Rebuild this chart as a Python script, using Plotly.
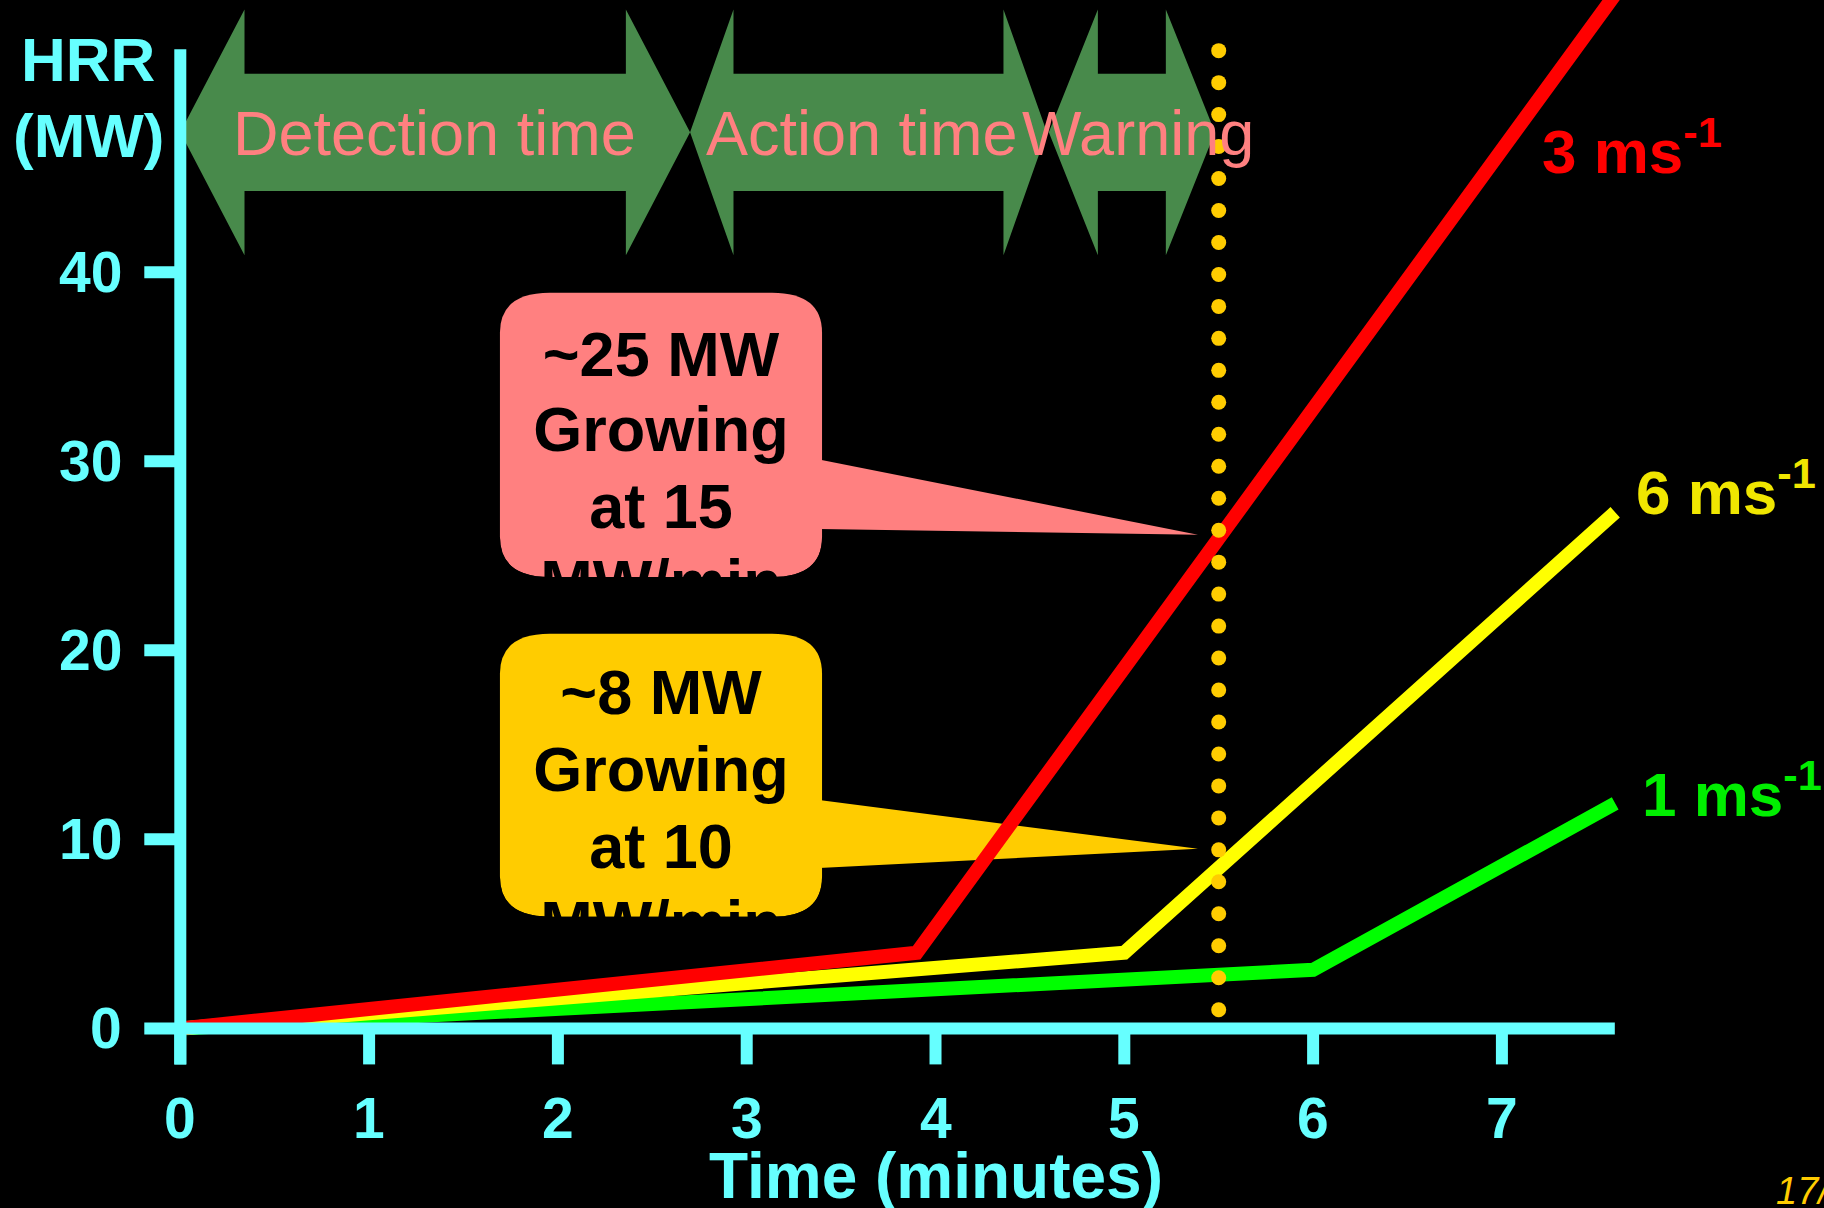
import numpy as np
import plotly.graph_objects as go

# ---- data -----------------------------------------------------------------
# Heat release rate (MW) against time (minutes) for three air velocities
red_time = [0.0, 3.9, 7.6]
red_hrr = [0.0, 4.0, 54.7]
yellow_time = [0.0, 5.0, 7.6]
yellow_hrr = [0.0, 4.0, 27.3]
green_time = [0.0, 6.0, 7.6]
green_hrr = [0.0, 3.1, 11.9]

velocity_labels = ["3 ms<sup>-1</sup>", "6 ms<sup>-1</sup>", "1 ms<sup>-1</sup>"]

x_tick_values = [0, 1, 2, 3, 4, 5, 6, 7]
y_tick_values = [0, 10, 20, 30, 40]

phase_names = ["Detection time", "Action time", "Warning"]
phase_start = [0.0, 2.70, 4.60]
phase_end = [2.70, 4.59, 5.48]

warning_time = 5.5

callout_fast = ["~25 MW", "Growing", "at 15", "MW/min"]
callout_medium = ["~8 MW", "Growing", "at 10", "MW/min"]

# ---- canvas / scales --------------------------------------------------------
W, H = 1824, 1208
X_RANGE = [-0.955, 8.706]
Y_RANGE = [-9.50, 54.40]
PX_X = W / (X_RANGE[1] - X_RANGE[0])   # pixels per minute
PX_Y = H / (Y_RANGE[1] - Y_RANGE[0])   # pixels per MW


def dx(px):
    return px / PX_X


def dy(px):
    return px / PX_Y


CYAN = "#66FFFF"
RED = "#FF0000"
YELLOW = "#FFFF00"
GREEN = "#00FF00"
GOLD = "#FFCC00"
ARROW_GREEN = "#488A4B"
SALMON = "#FF8080"
FONT = "Liberation Sans, Arial, sans-serif"

shapes = []
annotations = []

# ---- phase arrows along the top -------------------------------------------
y_mid, shaft_half, head_half = 47.4, 3.1, 6.5
head_len = [0.34, 0.23, 0.26]
for a, b, h in zip(phase_start, phase_end, head_len):
    path = (f"M {a},{y_mid} L {a+h},{y_mid+head_half} L {a+h},{y_mid+shaft_half} "
            f"L {b-h},{y_mid+shaft_half} L {b-h},{y_mid+head_half} L {b},{y_mid} "
            f"L {b-h},{y_mid-head_half} L {b-h},{y_mid-shaft_half} "
            f"L {a+h},{y_mid-shaft_half} L {a+h},{y_mid-head_half} Z")
    shapes.append(dict(type="path", path=path, fillcolor=ARROW_GREEN,
                       line=dict(width=0), layer="below"))

phase_centres = [1.345, 3.61, 5.07]
for name, xc in zip(phase_names, phase_centres):
    annotations.append(dict(x=xc, y=46.20 + dy(0.35 * 63), text=name, showarrow=False,
                            xanchor="center", yanchor="middle",
                            font=dict(family=FONT, size=63, color=SALMON)))

# ---- callout boxes ----------------------------------------------------------
box_left, box_right = 1.693, 3.399
rx, ry = dx(50), dy(40)


def rounded_box(L, R, B, T):
    return (f"M {L+rx},{T} L {R-rx},{T} Q {R},{T} {R},{T-ry} L {R},{B+ry} "
            f"Q {R},{B} {R-rx},{B} L {L+rx},{B} Q {L},{B} {L},{B+ry} "
            f"L {L},{T-ry} Q {L},{T} {L+rx},{T} Z")


def bottom_mask(L, R, B, depth):
    e = dx(4)
    return (f"M {L-e},{B+ry} L {L},{B+ry} Q {L},{B} {L+rx},{B} L {R-rx},{B} "
            f"Q {R},{B} {R},{B+ry} L {R+e},{B+ry} L {R+e},{B-depth} "
            f"L {L-e},{B-depth} Z")


callouts = [
    # colour, bottom, top, pointer base (upper, lower), pointer tip (x, y), text baselines
    (SALMON, 23.88, 38.91, (30.10, 26.42), (5.39, 26.11), [34.53, 30.53, 26.47, 22.47], callout_fast, dy(40)),
    (GOLD, 5.91, 20.87, (12.08, 8.49), (5.39, 9.50), [16.62, 12.56, 8.50, 4.43], callout_medium, dy(33)),
]

text_traces = []
for colour, B, T, (pu, pl), (tx, ty), baselines, lines, depth in callouts:
    shapes.append(dict(type="path", path=rounded_box(box_left, box_right, B, T),
                       fillcolor=colour, line=dict(width=0), layer="below"))
    xb = box_right - dx(3)
    shapes.append(dict(type="path", path=f"M {xb},{pu} L {tx},{ty} L {xb},{pl} Z",
                       fillcolor=colour, line=dict(width=0), layer="below"))
    text_traces.append(go.Scatter(
        x=[(box_left + box_right) / 2] * len(lines),
        y=[b + dy(0.25 * 63) for b in baselines],
        mode="text", text=lines, textposition="middle center",
        textfont=dict(family=FONT, size=63, color="#000000", weight="bold"),
        hoverinfo="skip", showlegend=False))
    # black band below the box so the last text line is cut at the box edge
    shapes.append(dict(type="path", path=bottom_mask(box_left, box_right, B, depth),
                       fillcolor="#000000", line=dict(width=0), layer="above"))

# ---- axes -------------------------------------------------------------------
AXW = 12
tick_x = dx(36)
tick_y = dy(36)
shapes.append(dict(type="line", x0=0, x1=0, y0=-tick_y, y1=51.8,
                   line=dict(color=CYAN, width=AXW), layer="above"))
shapes.append(dict(type="line", x0=0, x1=7.598, y0=0, y1=0,
                   line=dict(color=CYAN, width=AXW), layer="above"))
for xv in x_tick_values:
    shapes.append(dict(type="line", x0=xv, x1=xv, y0=0, y1=-tick_y,
                       line=dict(color=CYAN, width=AXW), layer="above"))
    annotations.append(dict(x=xv, y=-5.78 + dy(0.35 * 57), text=str(xv), showarrow=False,
                            xanchor="center", yanchor="middle",
                            font=dict(family=FONT, size=57, color=CYAN, weight="bold")))
for yv in y_tick_values:
    shapes.append(dict(type="line", x0=-tick_x, x1=0, y0=yv, y1=yv,
                       line=dict(color=CYAN, width=AXW), layer="above"))
    annotations.append(dict(x=-0.296, y=yv, text=str(yv), showarrow=False,
                            xanchor="right", yanchor="middle",
                            font=dict(family=FONT, size=57, color=CYAN, weight="bold")))

annotations.append(dict(x=4.005, y=-8.98 + dy(0.35 * 64), text="Time (minutes)", showarrow=False,
                        xanchor="center", yanchor="middle",
                        font=dict(family=FONT, size=64, color=CYAN, weight="bold")))
for txt, base in [("HRR", 50.09), ("(MW)", 46.09)]:
    annotations.append(dict(x=-0.487, y=base + dy(0.35 * 62), text=txt, showarrow=False,
                            xanchor="center", yanchor="middle",
                            font=dict(family=FONT, size=62, color=CYAN, weight="bold")))

# ---- velocity labels ----------------------------------------------------------
label_pos = [(7.20, 45.17), (7.70, 27.14), (7.73, 11.14)]
label_col = [RED, "#F0E600", "#00EE00"]
for txt, (lx, lb), col in zip(velocity_labels, label_pos, label_col):
    annotations.append(dict(x=lx, y=lb + dy(0.35 * 62) + dy(6), text=txt, showarrow=False,
                            xanchor="left", yanchor="middle",
                            font=dict(family=FONT, size=62, color=col, weight="bold")))

annotations.append(dict(x=8.44, y=-9.29 + dy(0.35 * 38), text="<i>17/</i>", showarrow=False,
                        xanchor="left", yanchor="middle",
                        font=dict(family=FONT, size=38, color=GOLD)))

# ---- traces -----------------------------------------------------------------
fig = go.Figure()
for t, v, c in [(green_time, green_hrr, GREEN), (yellow_time, yellow_hrr, YELLOW),
                (red_time, red_hrr, RED)]:
    fig.add_trace(go.Scatter(x=t, y=v, mode="lines", line=dict(color=c, width=14),
                             hoverinfo="skip", showlegend=False))

# dotted marker line at the warning time
dot_y = np.linspace(0.99, 51.72, 31)
fig.add_trace(go.Scatter(x=[warning_time] * len(dot_y), y=dot_y, mode="markers",
                         marker=dict(color=GOLD, size=15, line=dict(width=0)),
                         hoverinfo="skip", showlegend=False))

for tr in text_traces:
    fig.add_trace(tr)

fig.update_layout(
    width=W, height=H, margin=dict(l=0, r=0, t=0, b=0, pad=0),
    paper_bgcolor="#000000", plot_bgcolor="#000000",
    xaxis=dict(range=X_RANGE, visible=False, fixedrange=True),
    yaxis=dict(range=Y_RANGE, visible=False, fixedrange=True),
    shapes=shapes, annotations=annotations, showlegend=False,
)

fig.write_html("out.html", config={"displayModeBar": False})
